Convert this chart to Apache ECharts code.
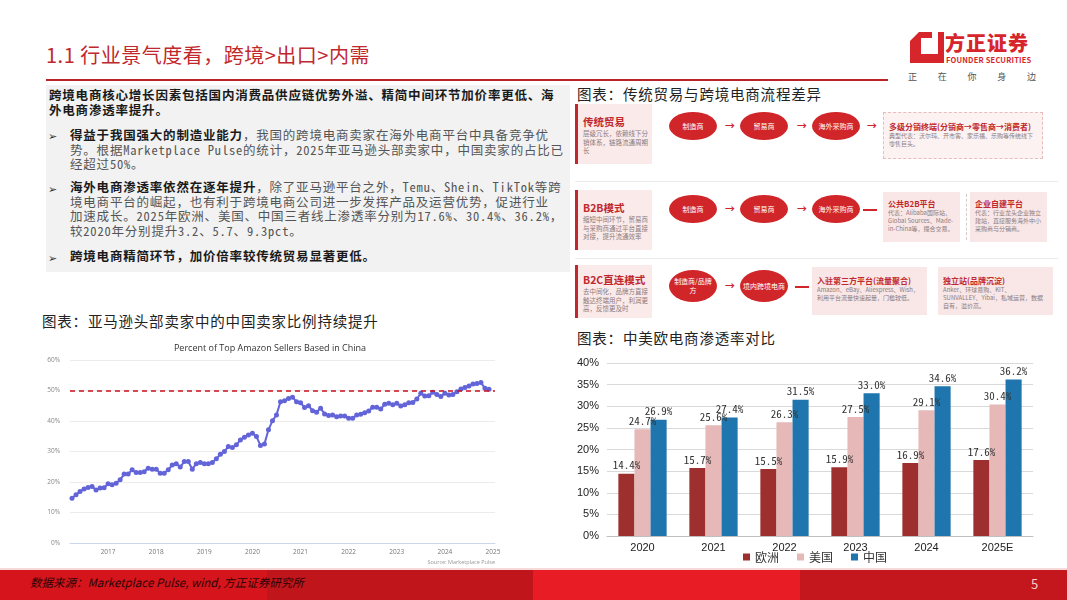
<!DOCTYPE html>
<html><head><meta charset="utf-8">
<script src="https://cdn.jsdelivr.net/npm/echarts@6/dist/echarts.min.js"></script>
<style>
*{box-sizing:border-box;margin:0;padding:0}
body{width:1067px;height:600px;overflow:hidden;background:#fff;font-family:"Noto Sans CJK SC","Noto Sans",sans-serif;position:relative}
.abs{position:absolute}
.txt{position:absolute;font-family:"Noto Sans Mono CJK SC","Noto Sans CJK SC",monospace;font-size:12.5px;letter-spacing:0.8px;line-height:14.7px;color:#555;white-space:nowrap}
.txt b{color:#1a1a1a;font-weight:700}
.bul{position:absolute;left:48px;font-size:11px;color:#333}
.cap{position:absolute;font-size:14.5px;color:#222;letter-spacing:0.8px;white-space:nowrap}
.card{position:absolute;left:575px;width:77px;background:#faeaea;border-left:3px solid #c0282d;padding:0 0 0 5px}
.card .t{color:#c0282d;font-size:10.5px;font-weight:700;white-space:nowrap}
.card .d{color:#8c7b7b;font-size:6.5px;line-height:8.5px}
.ell{position:absolute;width:48px;height:28px;border-radius:50%;background:#d0262a;color:#fff;font-size:7px;display:flex;align-items:center;justify-content:center;text-align:center;line-height:9px}
.arr{position:absolute;color:#d0262a;font-size:10px;font-weight:700;line-height:10px}
.dash{position:absolute;width:14px;height:1.5px;background:#d0262a}
.box{position:absolute;background:#f9e7e7;padding:3px 5px}
.box .t{color:#c0282d;font-size:8px;font-weight:700;white-space:nowrap;line-height:11px}
.box .d{color:#8c7b7b;font-size:6px;line-height:8px}
.sep{position:absolute;left:575px;width:483px;height:1px;background:#ececec}
</style></head>
<body>
<!-- header -->
<div class="abs" style="left:46px;top:40px;font-size:20px;color:#c0282d;white-space:nowrap;letter-spacing:0.5px">1.1&nbsp;行业景气度看，跨境&gt;出口&gt;内需</div>
<div class="abs" style="left:46px;top:79px;width:842px;height:2px;background:#b8242a"></div>
<svg class="abs" style="left:910px;top:32px" width="34" height="31" viewBox="0 0 34 31">
<path d="M9 0 H34 V31 H0 V9 Z" fill="#d7262b"/>
<path d="M11 6 H28 V22 H11 Z" fill="#fff"/>
<path d="M22 0 H28 V6 H22 Z" fill="#fff"/>
</svg>
<div class="abs" style="left:945px;top:28px;font-size:20px;font-weight:900;color:#d7262b;letter-spacing:1px;white-space:nowrap">方正证券</div>
<div class="abs" style="left:946px;top:54px;font-size:7.5px;font-weight:700;color:#d7262b;white-space:nowrap;letter-spacing:0.2px">FOUNDER SECURITIES</div>
<div class="abs" style="left:908px;top:70px;width:128px;font-size:9px;color:#555;display:flex;justify-content:space-between"><span>正</span><span>在</span><span>你</span><span>身</span><span>边</span></div>

<!-- text box -->
<div class="abs" style="left:46px;top:85px;width:524px;height:187px;background:#f2f2f2"></div>
<div class="txt" style="left:49px;top:88px"><b>跨境电商核心增长因素包括国内消费品供应链优势外溢、精简中间环节加价率更低、海<br>外电商渗透率提升。</b></div>
<div class="bul" style="top:127px">➢</div>
<div class="txt" style="left:70px;top:128px"><b>得益于我国强大的制造业能力</b>，我国的跨境电商卖家在海外电商平台中具备竞争优<br>势。根据Marketplace Pulse的统计，2025年亚马逊头部卖家中，中国卖家的占比已<br>经超过50%。</div>
<div class="bul" style="top:180px">➢</div>
<div class="txt" style="left:70px;top:180px"><b>海外电商渗透率依然在逐年提升</b>，除了亚马逊平台之外，Temu、Shein、TikTok等跨<br>境电商平台的崛起，也有利于跨境电商公司进一步发挥产品及运营优势，促进行业<br>加速成长。2025年欧洲、美国、中国三者线上渗透率分别为17.6%、30.4%、36.2%，<br>较2020年分别提升3.2、5.7、9.3pct。</div>
<div class="bul" style="top:249px">➢</div>
<div class="txt" style="left:70px;top:249px"><b>跨境电商精简环节，加价倍率较传统贸易显著更低。</b></div>

<!-- captions -->
<div class="cap" style="left:42px;top:310px">图表：亚马逊头部卖家中的中国卖家比例持续提升</div>
<div class="cap" style="left:577px;top:83px">图表：传统贸易与跨境电商流程差异</div>
<div class="cap" style="left:577px;top:327px">图表：中美欧电商渗透率对比</div>

<!-- flow diagram -->
<div class="card" style="top:104px;height:60px;padding-top:10px"><div class="t">传统贸易</div><div class="d">层级冗长，依赖线下分销体系，链路流通周期长</div></div>
<div class="ell" style="left:669px;top:112px">制造商</div>
<div class="arr" style="left:725px;top:121px">→</div>
<div class="ell" style="left:740px;top:112px">贸易商</div>
<div class="arr" style="left:797px;top:121px">→</div>
<div class="ell" style="left:812px;top:112px">海外采购商</div>
<div class="arr" style="left:867px;top:121px">→</div>
<div class="box" style="left:883px;top:112px;width:160px;height:47px;border:1px dashed #e6bcbc;background:#fcf2f2;padding-top:8px"><div class="t">多级分销终端(分销商→零售商→消费者)</div><div class="d">典型代表：沃尔玛、开市客、家乐福、乐购等传统线下零售巨头。</div></div>
<div class="sep" style="top:181px"></div>

<div class="card" style="top:190px;height:60px;padding-top:10px"><div class="t">B2B模式</div><div class="d">缩短中间环节，贸易商与采购商通过平台直接对接，提升流通效率</div></div>
<div class="ell" style="left:669px;top:195px">制造商</div>
<div class="arr" style="left:725px;top:204px">→</div>
<div class="ell" style="left:740px;top:195px">贸易商</div>
<div class="arr" style="left:797px;top:204px">→</div>
<div class="ell" style="left:812px;top:195px">海外采购商</div>
<div class="dash" style="left:863px;top:209px"></div>
<div class="box" style="left:883px;top:192px;width:77px;height:50px;padding-top:6px"><div class="t">公共B2B平台</div><div class="d">代表：Alibaba国际站、Global Sources、Made-in-China等，撮合交易。</div></div>
<div class="abs" style="left:966px;top:194px;height:46px;border-left:1px dashed #d8c8c8"></div>
<div class="box" style="left:970px;top:192px;width:77px;height:50px;padding-top:6px"><div class="t">企业自建平台</div><div class="d">代表：行业龙头企业独立建站，直接服务海外中小采购商与分销商。</div></div>
<div class="sep" style="top:258px"></div>

<div class="card" style="top:265px;height:53px;padding-top:7px"><div class="t">B2C直连模式</div><div class="d">去中间化，品牌方直接触达终端用户，利润更高，反馈更及时</div></div>
<div class="ell" style="left:669px;top:270px;height:32px">制造商/品牌<br>方</div>
<div class="arr" style="left:725px;top:281px">→</div>
<div class="ell" style="left:740px;top:270px;height:32px">境内跨境电商</div>
<div class="dash" style="left:795px;top:286px"></div>
<div class="box" style="left:812px;top:267px;width:115px;height:48px;padding-top:8px"><div class="t">入驻第三方平台(流量聚合)</div><div class="d">Amazon、eBay、Aliexpress、Wish，利用平台流量快速起量，门槛较低。</div></div>
<div class="box" style="left:938px;top:267px;width:115px;height:48px;padding-top:8px"><div class="t">独立站(品牌沉淀)</div><div class="d">Anker、环球易购、KIT、SUNVALLEY、Yibai，私域运营，数据自有，溢价高。</div></div>

<!-- charts -->
<div id="lineChart" class="abs" style="left:35px;top:333px;width:470px;height:235px;background:#fff"></div>
<div id="barChart" class="abs" style="left:570px;top:345px;width:497px;height:223px"></div>

<!-- footer -->
<div class="abs" style="left:0;top:568px;width:1067px;height:2px;background:#f6dada"></div>
<div class="abs" style="left:0;top:570px;width:267px;height:30px;background:#d5141c"></div>
<div class="abs" style="left:267px;top:570px;width:266px;height:30px;background:#c1151c"></div>
<div class="abs" style="left:533px;top:570px;width:267px;height:30px;background:#e81c24"></div>
<div class="abs" style="left:800px;top:570px;width:267px;height:30px;background:#c3161d"></div>
<div class="abs" style="left:30px;top:574px;font-size:11.5px;font-style:italic;color:#2a0505;white-space:nowrap">数据来源：Marketplace Pulse, wind, 方正证券研究所</div>
<div class="abs" style="left:1031px;top:574px;font-size:13px;color:#f7caca">5</div>

<script>
// ---- Bar chart data ----
const barCategories = ['2020', '2021', '2022', '2023', '2024', '2025E'];
const europeRate = [14.4, 15.7, 15.5, 15.9, 16.9, 17.6];
const usRate = [24.7, 25.6, 26.3, 27.5, 29.1, 30.4];
const chinaRate = [26.9, 27.4, 31.5, 33.0, 34.6, 36.2];
const barSeriesNames = ['欧洲', '美国', '中国'];

// ---- Line chart data (monthly, starting April 2016) ----
const lineStartYear = 2016;
const lineStartMonth = 4;
const lineMonthCount = 106;
const chinaSellerShare = [
  14.7,15.8,16.9,17.7,18.2,18.5,17.4,18.0,18.1,19.4,
  19.1,19.6,20.7,22.6,22.6,24.0,23.1,23.1,23.4,24.5,
  24.2,24.2,22.9,22.9,24.0,25.6,26.0,24.9,26.7,26.7,
  24.2,26.0,26.4,26.0,26.0,26.4,27.6,29.1,30.0,31.6,
  31.3,32.2,33.8,34.7,35.4,36.0,34.9,32.0,32.5,37.1,
  40.1,42.0,46.3,46.6,47.4,47.8,46.3,46.0,44.4,45.0,
  43.4,42.9,44.2,42.3,41.8,42.0,41.4,41.6,41.6,40.9,
  40.9,42.0,42.2,42.7,43.3,44.5,44.5,43.9,45.5,45.8,
  45.3,45.8,44.9,45.3,46.0,46.1,47.2,49.1,48.2,48.3,
  49.4,48.7,48.0,49.1,48.5,48.7,49.6,50.5,51.0,51.5,
  52.1,52.3,52.6,50.7,50.4
];
const referenceLevel = 50;

const monthLabels = [];
for (let i = 0; i < lineMonthCount; i++) {
  const m0 = lineStartMonth - 1 + i;
  const y = lineStartYear + Math.floor(m0 / 12);
  const m = (m0 % 12) + 1;
  monthLabels.push(y + '-' + (m < 10 ? '0' + m : m));
}

const lineChart = echarts.init(document.getElementById('lineChart'));
lineChart.setOption({
  animation: false,
  backgroundColor: '#fff',
  title: {
    text: 'Percent of Top Amazon Sellers Based in China',
    left: 'center', top: 6,
    textStyle: { fontSize: 9, fontWeight: 500, color: '#333', fontFamily: 'Open Sans, sans-serif' }
  },
  graphic: [{
    type: 'text', right: 10, bottom: 3,
    style: { text: 'Source: Marketplace Pulse', fontSize: 5.5, fill: '#999', fontFamily: 'Open Sans, sans-serif' }
  }],
  grid: { left: 35, right: 10, top: 27, bottom: 25 },
  xAxis: {
    type: 'category', data: monthLabels, boundaryGap: true,
    axisTick: { show: false },
    axisLine: { lineStyle: { color: '#ccd6eb' } },
    axisLabel: {
      interval: (idx, val) => val.endsWith('-01'),
      formatter: v => v.slice(0, 4),
      fontSize: 6.5, color: '#777', margin: 6, fontFamily: 'Open Sans, sans-serif'
    }
  },
  yAxis: {
    type: 'value', min: 0, max: 60, interval: 10,
    axisLabel: { formatter: '{value}%', fontSize: 6.5, color: '#888', margin: 10, fontFamily: 'Open Sans, sans-serif' },
    splitLine: { lineStyle: { color: '#ececec' } },
    axisLine: { show: false }, axisTick: { show: false }
  },
  series: [{
    type: 'line', data: chinaSellerShare,
    symbol: 'circle', symbolSize: 5, showAllSymbol: true,
    lineStyle: { color: '#6264d8', width: 2 },
    itemStyle: { color: '#6264d8' },
    markLine: {
      silent: true, symbol: 'none',
      label: { show: false },
      lineStyle: { color: '#c8101e', type: [5, 4], width: 1.6 },
      data: [{ yAxis: referenceLevel }]
    }
  }]
});

const barChart = echarts.init(document.getElementById('barChart'));
const labelStyle = {
  show: true, position: 'top', distance: 3,
  fontSize: 11, color: '#333',
  fontFamily: '"Noto Sans Mono CJK SC", "Liberation Mono", monospace',
  formatter: p => p.value.toFixed(1) + '%'
};
barChart.setOption({
  animation: false,
  textStyle: { fontFamily: '"Noto Sans CJK SC", sans-serif' },
  grid: { left: 37, right: 34, top: 18, bottom: 32 },
  legend: {
    data: barSeriesNames, bottom: 0, left: 168,
    icon: 'rect', itemWidth: 7, itemHeight: 7, itemGap: 18,
    textStyle: { fontSize: 12, color: '#333', fontFamily: '"Noto Sans CJK SC", sans-serif' }
  },
  xAxis: {
    type: 'category', data: barCategories,
    axisTick: { show: false },
    axisLine: { lineStyle: { color: '#bfbfbf' } },
    axisLabel: { fontSize: 11, color: '#222', margin: 6, fontFamily: 'Liberation Sans, Arial, sans-serif' }
  },
  yAxis: {
    type: 'value', min: 0, max: 40, interval: 5,
    axisLabel: { formatter: '{value}%', fontSize: 11, color: '#222', margin: 8, fontFamily: 'Liberation Sans, Arial, sans-serif' },
    splitLine: { lineStyle: { color: '#d9d9d9' } },
    axisLine: { show: false }, axisTick: { show: false }
  },
  series: [
    { name: barSeriesNames[0], type: 'bar', data: europeRate, barGap: '0%', barCategoryGap: '32%', itemStyle: { color: '#9e2f2f' }, label: labelStyle },
    { name: barSeriesNames[1], type: 'bar', data: usRate, barGap: '0%', barCategoryGap: '32%', itemStyle: { color: '#e6b9b8' }, label: labelStyle },
    { name: barSeriesNames[2], type: 'bar', data: chinaRate, barGap: '0%', barCategoryGap: '32%', itemStyle: { color: '#1f75ad' }, label: labelStyle }
  ]
});
</script>
</body></html>
